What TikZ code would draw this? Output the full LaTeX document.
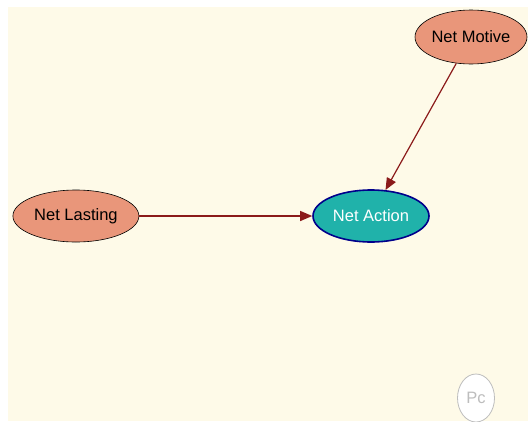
\documentclass[tikz,border=0pt]{standalone}
\usepackage{fontspec}
\setmainfont{Liberation Sans}
\usepackage{tikz}
\usetikzlibrary{arrows.meta,positioning,shapes.geometric}
\definecolor{Cream}{HTML}{FEFAE8}
\definecolor{Salmon}{HTML}{E9967A}
\definecolor{Teal}{HTML}{20B2AA}
\definecolor{Navy}{HTML}{00008B}
\definecolor{Wine}{HTML}{8B1A1A}
\definecolor{Ash}{HTML}{BDBDBD}

\begin{document}
\begin{tikzpicture}[x=1pt,y=-1pt,font=\fontsize{16.5}{19}\selectfont,
    varnode/.style={ellipse,draw=black,fill=Salmon,line width=0.6pt,
      minimum width=126pt,minimum height=52pt,inner sep=0pt,text=black},
    goalnode/.style={ellipse,draw=Navy,fill=Teal,line width=1.6pt,
      minimum width=116pt,minimum height=52pt,inner sep=0pt,text=white},
    pcnode/.style={ellipse,draw=Ash,fill=white,line width=0.8pt,
      minimum width=37pt,minimum height=48pt,inner sep=0pt,text=Ash},
    link/.style={->,Wine,line width=1.2pt},
    >={Triangle[length=12pt,width=10pt]}]
  \useasboundingbox (0,0) rectangle (528,421);
  \fill[Cream] (8,7) rectangle (528,421);
  \node[goalnode] (act) at (371,216) {Net Action};
  \node[varnode, left=173pt of act] (last) {Net Lasting};
  \node[varnode, minimum width=112pt, minimum height=54pt] (motv) at (471,37) {Net Motive};
  \node[pcnode] (pc) at (476,398) {Pc};
  \draw[link] (last) -- (act);
  \draw[link] (motv) -- (act);
\end{tikzpicture}
\end{document}
